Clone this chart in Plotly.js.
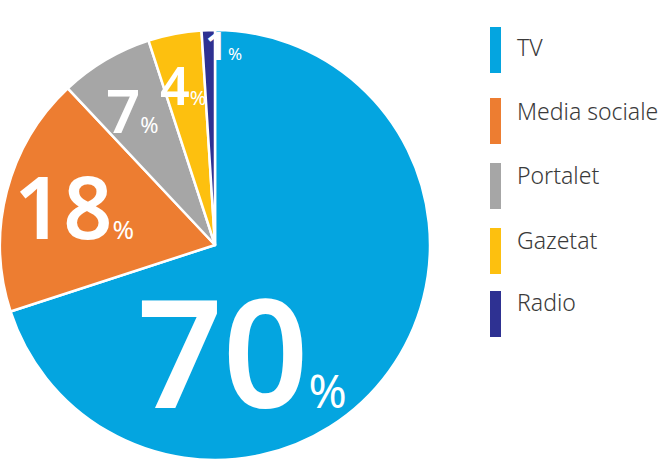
<!DOCTYPE html>
<html>
<head>
<meta charset="utf-8">
<script src="https://cdn.plot.ly/plotly-3.0.1.min.js"></script>
<style>html,body{margin:0;padding:0;background:#fff;}#chart{width:667px;height:468px;}</style>
</head>
<body>
<div id="chart"></div>
<script>
// ---- data ----
const categories = ['TV', 'Media sociale', 'Portalet', 'Gazetat', 'Radio'];
const values = [70, 18, 7, 4, 1];
const colors = ['#04A5E0', '#ED7D31', '#A6A6A6', '#FDC00F', '#2E3192'];

// ---- layout helpers (pixel -> paper) ----
const W = 667, H = 468;
const px = x => x / W;
const py = y => 1 - y / H;

// label styling / placement (pixels)
const labelFont = [150, 86, 60, 52, 40];
const pctFont = [46, 26, 22, 20, 17];
const labelLeft = [135, 12, 104, 158, 203];
const labelMid = [350, 205, 110, 84, 45];

// legend placement (pixels)
const legBarTop = [27, 98, 163, 228, 291];
const legTextMid = [47, 111, 175, 240, 302];

const pie = {
  type: 'pie',
  labels: categories,
  values: values,
  sort: false,
  direction: 'clockwise',
  rotation: 0,
  textinfo: 'none',
  hoverinfo: 'label+percent',
  marker: { colors: colors, line: { color: '#ffffff', width: 2.5 } },
  domain: { x: [0, px(430)], y: [py(462), py(28)] },
  showlegend: false
};

const annotations = [];
const shapes = [];
values.forEach((v, i) => {
  annotations.push({
    xref: 'paper', yref: 'paper',
    x: px(labelLeft[i]), y: py(labelMid[i]),
    xanchor: 'left', yanchor: 'middle',
    showarrow: false,
    text: v + '<span style="font-size:' + pctFont[i] + 'px;font-weight:400">%</span>',
    font: { family: 'Noto Sans, Open Sans, sans-serif', size: labelFont[i], color: '#ffffff', weight: 600 }
  });
});
categories.forEach((c, i) => {
  shapes.push({
    type: 'rect', xref: 'paper', yref: 'paper',
    x0: px(490), x1: px(501), y0: py(legBarTop[i] + 46), y1: py(legBarTop[i]),
    fillcolor: colors[i], line: { width: 0 }
  });
  annotations.push({
    xref: 'paper', yref: 'paper',
    x: px(515), y: py(legTextMid[i]),
    xanchor: 'left', yanchor: 'middle',
    showarrow: false,
    text: c,
    font: { family: 'Noto Sans, Open Sans, sans-serif', size: 23, color: '#3a3a3a', weight: 300 }
  });
});

const layout = {
  width: W, height: H,
  margin: { l: 0, r: 0, t: 0, b: 0 },
  paper_bgcolor: '#ffffff',
  plot_bgcolor: '#ffffff',
  showlegend: false,
  annotations: annotations,
  shapes: shapes
};

Plotly.newPlot('chart', [pie], layout, { displayModeBar: false, staticPlot: true });
</script>
</body>
</html>
